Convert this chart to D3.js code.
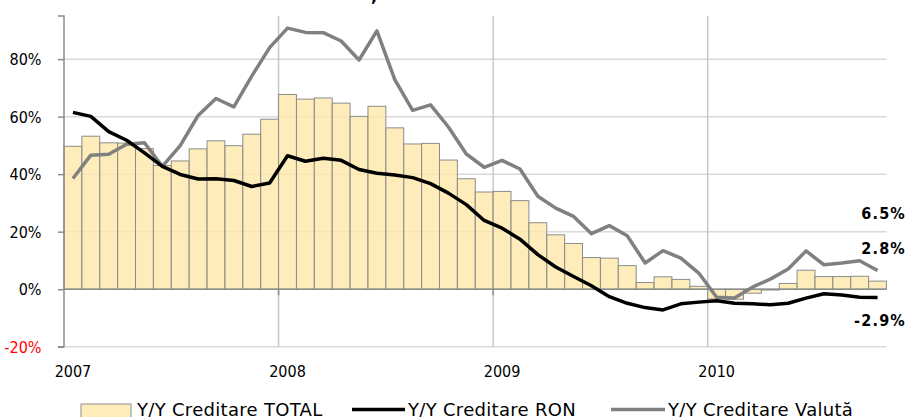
<!DOCTYPE html>
<html>
<head>
<meta charset="utf-8">
<script src="https://cdn.jsdelivr.net/npm/d3@7"></script>
<style>
  body { margin: 0; background: #fff; }
  svg { display: block; font-family: "DejaVu Sans", sans-serif; }
</style>
</head>
<body>
<div id="chart"></div>
<script>
const months = [
  "2007-01","2007-02","2007-03","2007-04","2007-05","2007-06","2007-07","2007-08","2007-09","2007-10","2007-11","2007-12",
  "2008-01","2008-02","2008-03","2008-04","2008-05","2008-06","2008-07","2008-08","2008-09","2008-10","2008-11","2008-12",
  "2009-01","2009-02","2009-03","2009-04","2009-05","2009-06","2009-07","2009-08","2009-09","2009-10","2009-11","2009-12",
  "2010-01","2010-02","2010-03","2010-04","2010-05","2010-06","2010-07","2010-08","2010-09","2010-10"
];
const total = [
  49.7, 53.2, 50.9, 50.8, 48.9, 43.0, 44.6, 48.8, 51.6, 49.9, 53.9, 59.1,
  67.7, 66.1, 66.5, 64.7, 60.1, 63.6, 56.1, 50.5, 50.7, 44.9, 38.4, 33.8,
  34.0, 30.8, 23.1, 18.9, 15.9, 11.0, 10.8, 8.2, 2.3, 4.3, 3.4, 1.0,
  -3.4, -3.5, -1.4, -0.3, 2.0, 6.6, 4.4, 4.4, 4.5, 2.8
];
const ron = [
  61.5, 60.1, 54.8, 51.8, 47.4, 42.7, 39.9, 38.3, 38.4, 37.8, 35.7, 36.9,
  46.4, 44.5, 45.5, 44.8, 41.6, 40.3, 39.7, 38.8, 36.7, 33.4, 29.4, 23.9,
  21.2, 17.4, 12.0, 7.7, 4.4, 1.2, -2.6, -4.9, -6.4, -7.2, -5.1, -4.5,
  -4.0, -4.9, -5.1, -5.4, -4.9, -3.1, -1.6, -2.0, -2.8, -2.9
];
const valuta = [
  38.5, 46.6, 46.9, 50.4, 50.9, 42.7, 49.9, 60.4, 66.3, 63.4, 74.1, 84.0,
  90.8, 89.3, 89.2, 86.3, 79.7, 89.8, 72.9, 62.2, 64.1, 56.4, 47.0, 42.4,
  44.8, 41.8, 32.3, 28.2, 25.3, 19.3, 22.1, 18.6, 9.1, 13.4, 10.8, 5.6,
  -2.8, -3.1, 0.7, 3.5, 7.0, 13.3, 8.5, 9.1, 9.9, 6.5
];
const yTicks = [-20, 0, 20, 40, 60, 80];
const years = ["2007", "2008", "2009", "2010"];
const seriesNames = ["Y/Y Creditare TOTAL", "Y/Y Creditare RON", "Y/Y Creditare Valută"];
const endLabels = ["6.5%", "2.8%", "-2.9%"];

const width = 907, height = 417;
const margin = { top: 16, right: 20.5, bottom: 70.3, left: 64 };

const svg = d3.select("#chart").append("svg")
  .attr("width", width)
  .attr("height", height);

const x = d3.scaleBand()
  .domain(months)
  .range([margin.left, width - margin.right])
  .padding(0);

const y = d3.scaleLinear()
  .domain([-20, 95])
  .range([height - margin.bottom, margin.top]);

const x0 = margin.left, x1 = width - margin.right;
const condensed = "'DejaVu Sans Condensed', 'DejaVu Sans', sans-serif";

// horizontal grid
svg.append("g").selectAll("line")
  .data(yTicks.filter(d => d !== 0))
  .join("line")
  .attr("x1", x0).attr("x2", x1)
  .attr("y1", d => y(d)).attr("y2", d => y(d))
  .attr("stroke", "#d9d9d9")
  .attr("stroke-width", 1.5);

// vertical grid at year starts
svg.append("g").selectAll("line")
  .data(years.slice(1))
  .join("line")
  .attr("x1", d => x(d + "-01")).attr("x2", d => x(d + "-01"))
  .attr("y1", y(95)).attr("y2", y(-20))
  .attr("stroke", "#c8c8c8")
  .attr("stroke-width", 1.5);

// bars
svg.append("g").selectAll("rect")
  .data(total)
  .join("rect")
  .attr("x", (d, i) => x(months[i]))
  .attr("width", x.bandwidth())
  .attr("y", d => y(Math.max(0, d)))
  .attr("height", d => Math.abs(y(d) - y(0)))
  .attr("fill", "rgba(254,233,172,0.82)")
  .attr("stroke", "#8c8c8c")
  .attr("stroke-width", 1);

// zero axis
svg.append("line")
  .attr("x1", x0).attr("x2", x1)
  .attr("y1", y(0)).attr("y2", y(0))
  .attr("stroke", "#8c8c8c")
  .attr("stroke-width", 1.5);
svg.append("g").selectAll("line")
  .data(years.slice(1, 3))
  .join("line")
  .attr("x1", d => x(d + "-01")).attr("x2", d => x(d + "-01"))
  .attr("y1", y(0)).attr("y2", y(0) + 6)
  .attr("stroke", "#8c8c8c")
  .attr("stroke-width", 1.5);

// lines
const line = d3.line()
  .x((d, i) => x(months[i]) + x.bandwidth() / 2)
  .y(d => y(d));

svg.append("path")
  .datum(valuta)
  .attr("d", line)
  .attr("fill", "none")
  .attr("stroke", "#808080")
  .attr("stroke-width", 3.5)
  .attr("stroke-linejoin", "round");

svg.append("path")
  .datum(ron)
  .attr("d", line)
  .attr("fill", "none")
  .attr("stroke", "#000")
  .attr("stroke-width", 3.5)
  .attr("stroke-linejoin", "round");

// y axis
const yAxis = d3.axisLeft(y).tickValues(yTicks).tickSize(6).tickFormat(d => d + "%");
const gy = svg.append("g")
  .attr("transform", `translate(${x0},0)`)
  .call(yAxis);
gy.select(".domain").attr("stroke", "#8c8c8c").attr("stroke-width", 1.5)
  .attr("d", `M-6,${y(95)}H0V${y(-20)}H-6`);
gy.selectAll(".tick line").attr("stroke", "#8c8c8c").attr("stroke-width", 1.5);
gy.selectAll(".tick text")
  .attr("x", -22.5)
  .attr("dy", "0.36em")
  .attr("font-size", 16)
  .attr("font-family", condensed)
  .attr("fill", d => d < 0 ? "#ff0000" : "#000");

// year labels
svg.append("g").selectAll("text")
  .data(years)
  .join("text")
  .attr("x", d => x(d + "-01") + x.bandwidth() / 2)
  .attr("y", 377)
  .attr("text-anchor", "middle")
  .attr("font-size", 16)
  .attr("font-family", condensed)
  .text(d => d);

// end labels
svg.append("g").selectAll("text")
  .data(endLabels)
  .join("text")
  .attr("x", 906)
  .attr("y", (d, i) => [219, 254, 326][i])
  .attr("text-anchor", "end")
  .attr("font-size", 16)
  .attr("font-family", condensed)
  .attr("font-weight", "bold")
  .attr("letter-spacing", 1.2)
  .text(d => d);

// stray title fragment at top
svg.append("text")
  .attr("x", 371).attr("y", 2)
  .attr("font-size", 16).attr("font-weight", "bold")
  .text(",");

// legend
const lg = svg.append("g");
lg.append("rect")
  .attr("x", 81).attr("y", 404).attr("width", 50).attr("height", 14)
  .attr("fill", "rgba(254,233,172,0.82)").attr("stroke", "#8c8c8c");
lg.append("line")
  .attr("x1", 352).attr("x2", 405).attr("y1", 409.5).attr("y2", 409.5)
  .attr("stroke", "#000").attr("stroke-width", 3.5);
lg.append("line")
  .attr("x1", 611).attr("x2", 665).attr("y1", 409.5).attr("y2", 409.5)
  .attr("stroke", "#808080").attr("stroke-width", 3.5);
lg.selectAll("text")
  .data(seriesNames)
  .join("text")
  .attr("x", (d, i) => [137, 408, 668][i])
  .attr("y", 416)
  .attr("font-size", 18)
  .attr("letter-spacing", 0.3)
  .text(d => d);
</script>
</body>
</html>
